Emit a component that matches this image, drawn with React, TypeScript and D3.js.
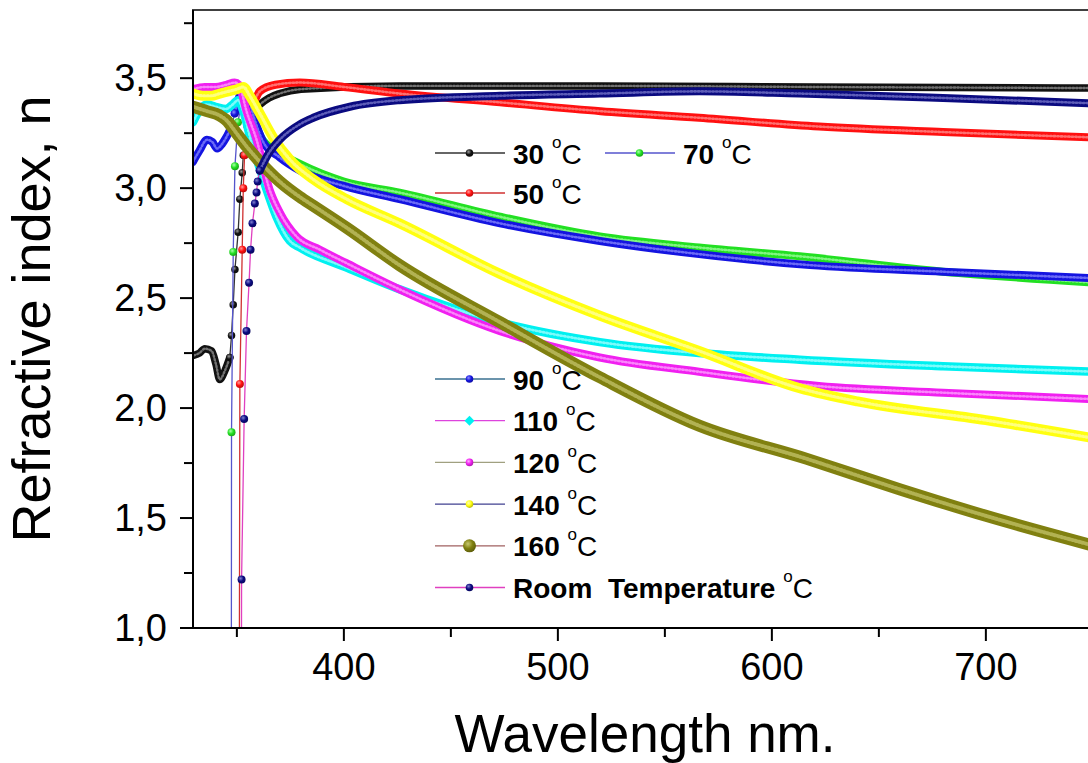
import React from 'react';
import * as d3 from 'd3';

type Pt = [number, number];

// ---- data: [wavelength nm, refractive index n] ----
const s30: Pt[] = [[330,2.24],[332.5,2.25],[335,2.27],[338.2,2.26],[340.2,2.20],[342,2.13],[344.4,2.17],[346.7,2.23],[347.5,2.33],[348.3,2.47],[349.1,2.63],[350.6,2.80],[351.4,2.95],[352.5,3.07],[353,3.15],[355,3.28],[357.5,3.35],[360.7,3.38],[365,3.41],[370,3.43],[380,3.45],[426,3.465],[520,3.465],[620,3.46],[752,3.455]];
const s50: Pt[] = [[351.1,0.5],[351.4,2.11],[352.5,2.72],[353.0,3.0],[353.6,3.15],[355,3.28],[357,3.36],[360.7,3.44],[368,3.47],[379.4,3.48],[400,3.46],[426,3.43],[473,3.39],[520,3.35],[566,3.32],[622,3.28],[680,3.255],[752,3.23]];
const s70: Pt[] = [[347.4,0.5],[347.5,1.89],[348.3,2.71],[349.1,3.10],[350.5,3.30],[352,3.38],[355,3.36],[362,3.22],[370,3.16],[379.4,3.11],[400,3.03],[426,2.98],[473,2.87],[519.6,2.78],[566,2.73],[613,2.69],[680,2.62],[752,2.57]];
const s90: Pt[] = [[329.5,3.12],[332.5,3.17],[336,3.22],[338.5,3.21],[340.8,3.18],[343,3.20],[345,3.23],[347.5,3.28],[349,3.34],[350.6,3.40],[353,3.45],[354.5,3.44],[358,3.32],[362.3,3.21],[370,3.14],[379.4,3.08],[400,3.01],[426,2.95],[473,2.84],[519.6,2.76],[566,2.70],[617.8,2.65],[680,2.62],[752,2.59]];
const s110: Pt[] = [[329.5,3.30],[333,3.36],[336,3.38],[340,3.37],[345,3.36],[348,3.38],[350.5,3.40],[353,3.35],[357,3.20],[361,3.08],[364,2.99],[368.5,2.87],[374.8,2.76],[379.4,2.73],[401,2.64],[426,2.54],[473,2.39],[519.6,2.30],[566,2.25],[613,2.22],[680,2.19],[752,2.165]];
const s120: Pt[] = [[329.5,3.45],[335,3.46],[340,3.46],[345,3.47],[349,3.48],[351,3.47],[354.5,3.35],[359.2,3.22],[365.4,2.99],[370,2.89],[377.9,2.78],[388.8,2.72],[401,2.66],[426,2.54],[473,2.35],[519.6,2.23],[566,2.165],[622,2.10],[680,2.07],[752,2.04]];
const s140: Pt[] = [[329.5,3.43],[334,3.42],[338,3.42],[342,3.43],[346,3.44],[350,3.45],[353,3.46],[356,3.42],[360.7,3.34],[367,3.23],[374.8,3.13],[385.7,3.04],[401.3,2.95],[426,2.84],[473,2.61],[519.6,2.42],[566,2.26],[613,2.09],[640,2.03],[700,1.945],[752,1.86]];
const s160: Pt[] = [[329.5,3.37],[336,3.35],[342,3.33],[345,3.31],[349.8,3.25],[354.5,3.19],[360.7,3.12],[370,3.03],[379.4,2.96],[385.7,2.92],[401.3,2.82],[426,2.65],[473,2.39],[519.6,2.14],[566,1.92],[616,1.77],[660,1.63],[700,1.51],[752,1.37]];
const sRoom: Pt[] = [[352.1,0.5],[352.2,1.22],[353.4,1.95],[354.5,2.35],[355.7,2.57],[356.4,2.72],[357.3,2.84],[358.4,2.93],[359.2,2.98],[359.7,3.03],[360.7,3.08],[365,3.16],[370,3.22],[379.4,3.29],[385.7,3.32],[402.8,3.37],[426,3.40],[473,3.42],[519.6,3.43],[566,3.44],[613,3.43],[680,3.41],[752,3.385]];

const xMajor = [400, 500, 600, 700];
const xMinor = [350, 450, 550, 650, 750];
const yMajor = [1.0, 1.5, 2.0, 2.5, 3.0, 3.5];
const yMinor = [1.25, 1.75, 2.25, 2.75, 3.25, 3.75];

const labels = ['30', '50', '70', '90', '110', '120', '140', '160', 'Room\u00a0\u00a0Temperature'];

type Meta = { label: string; data: Pt[]; color: string; hi: string; line: string; size: number; diamond?: boolean };
const series: Meta[] = [
  { label: labels[0], data: s30, color: '#111111', hi: '#9a9a9a', line: '#333333', size: 7.5 },
  { label: labels[1], data: s50, color: '#ff1010', hi: '#ff9a9a', line: '#d03030', size: 8 },
  { label: labels[2], data: s70, color: '#22e022', hi: '#aaffaa', line: '#5555cc', size: 8 },
  { label: labels[3], data: s90, color: '#1414e0', hi: '#9090ff', line: '#3a7090', size: 8 },
  { label: labels[4], data: s110, color: '#00f0f0', hi: '#b0ffff', line: '#dd44dd', size: 8.5, diamond: true },
  { label: labels[5], data: s120, color: '#f020f0', hi: '#ffb0ff', line: '#a0a080', size: 8 },
  { label: labels[6], data: s140, color: '#ffff10', hi: '#ffffb0', line: '#404090', size: 10 },
  { label: labels[7], data: s160, color: '#808010', hi: '#c8c870', line: '#a06060', size: 12 },
  { label: labels[8], data: sRoom, color: '#0a0a80', hi: '#8080d0', line: '#e040c0', size: 8 },
];

const FONT = "'Liberation Sans', Arial, Helvetica, sans-serif";
const W = 1088, H = 763;
const PX = 2.14;
const x = d3.scaleLinear().domain([329.5, 752]).range([193, 193 + 422.5 * PX]);
const y = d3.scaleLinear().domain([1.0, 3.81]).range([628, 10]);

const fmt = (v: number) => d3.format('.1f')(v).replace('.', ',');

function SeriesMarks({ s, i }: { s: Meta; i: number }) {
  const pts: [number, number][] = s.data.map(([w, n]) => [x(w), y(n)]);
  const steep = pts.slice(0, -1).map((p, k) => Math.abs(pts[k + 1][1] - p[1]) > 4 * Math.abs(pts[k + 1][0] - p[0]));
  const runs: [number, number][][] = [];
  let cur: [number, number][] = [pts[0]];
  for (let k = 0; k < steep.length; k++) {
    if (!steep[k]) cur.push(pts[k + 1]);
    else { if (cur.length > 1) runs.push(cur); cur = [pts[k + 1]]; }
  }
  if (cur.length > 1) runs.push(cur);
  const markers = pts.filter((_, k) => (k > 0 && steep[k - 1]) || (k < steep.length && steep[k]));
  const thin = d3.line()(pts) || '';
  const thick = d3.line().curve(d3.curveMonotoneX);
  return (
    <g>
      <path d={thin} fill="none" stroke={s.line} strokeWidth={1.3} />
      {runs.map((r, k) => (
        <g key={k}>
          <path d={thick(r) || ''} fill="none" stroke={s.color} strokeWidth={s.size} strokeLinecap="round" strokeLinejoin="round" />
          <path d={thick(r) || ''} fill="none" stroke={s.hi} strokeWidth={s.size * 0.32} strokeDasharray="1.3 2.3" strokeOpacity={0.7} strokeLinecap="round" />
        </g>
      ))}
      {markers.map((p, k) => (
        <circle key={k} cx={p[0]} cy={p[1]} r={s.size / 2} fill={`url(#g${i})`} />
      ))}
    </g>
  );
}

function LegendEntry({ s, i, lx, ly }: { s: Meta; i: number; lx: number; ly: number }) {
  const mx = lx + 34.5;
  const r = i === 7 ? 6.5 : 3.8;
  return (
    <g>
      <line x1={lx} x2={lx + 70} y1={ly} y2={ly} stroke={s.line} strokeWidth={1.3} />
      {s.diamond ? (
        <rect x={mx - 3.5} y={ly - 3.5} width={7} height={7} fill={s.color} transform={`rotate(45 ${mx} ${ly})`} />
      ) : (
        <circle cx={mx} cy={ly} r={r} fill={`url(#g${i})`} />
      )}
      <text x={lx + 78} y={ly + 10.5} fontFamily={FONT} fontSize={28} fill="#000">
        <tspan fontWeight="bold">{s.label}</tspan>
        <tspan> </tspan>
        <tspan fontSize={17} dy={-16}>o</tspan>
        <tspan dy={16}>C</tspan>
      </text>
    </g>
  );
}

export default function App() {
  const legendTop = [{ i: 0, lx: 435, ly: 153 }, { i: 2, lx: 605, ly: 153 }, { i: 1, lx: 435, ly: 193 }];
  const legendBottom = [3, 4, 5, 6, 7, 8].map((i, k) => ({ i, lx: 435, ly: 379 + k * 41.7 }));
  return (
    <div style={{ position: 'absolute', left: 0, top: 0 }}>
      <svg width={W} height={H} style={{ display: 'block', background: '#fff' }}>
        <defs>
          <clipPath id="plot">
            <rect x={193} y={10} width={W - 193} height={618} />
          </clipPath>
          {series.map((s, i) => (
            <radialGradient key={i} id={`g${i}`} cx="38%" cy="35%" r="65%">
              <stop offset="0%" stopColor={s.hi} />
              <stop offset="55%" stopColor={s.color} />
              <stop offset="100%" stopColor={d3.color(s.color)!.darker(0.8).toString()} />
            </radialGradient>
          ))}
        </defs>
        <g clipPath="url(#plot)">
          {series.map((s, i) => <SeriesMarks key={i} s={s} i={i} />)}
        </g>
        {/* frame */}
        <line x1={193} x2={193} y1={10} y2={629} stroke="#000" strokeWidth={2} />
        <line x1={192} x2={W} y1={628} y2={628} stroke="#000" strokeWidth={2} />
        <line x1={192} x2={W} y1={10} y2={10} stroke="#000" strokeWidth={1.5} />
        {/* y ticks */}
        {yMajor.map(v => (
          <g key={v}>
            <line x1={180} x2={193} y1={y(v)} y2={y(v)} stroke="#000" strokeWidth={2} />
            <text x={167} y={y(v) + 13} textAnchor="end" fontFamily={FONT} fontSize={38}>{fmt(v)}</text>
          </g>
        ))}
        {yMinor.map(v => <line key={v} x1={184} x2={193} y1={y(v)} y2={y(v)} stroke="#000" strokeWidth={2} />)}
        {/* x ticks */}
        {xMajor.map(v => (
          <g key={v}>
            <line x1={x(v)} x2={x(v)} y1={628} y2={641} stroke="#000" strokeWidth={2} />
            <text x={x(v)} y={680} textAnchor="middle" fontFamily={FONT} fontSize={38}>{v}</text>
          </g>
        ))}
        {xMinor.map(v => <line key={v} x1={x(v)} x2={x(v)} y1={628} y2={637} stroke="#000" strokeWidth={2} />)}
        {/* titles */}
        <text x={645} y={752} textAnchor="middle" fontFamily={FONT} fontSize={53}>Wavelength nm.</text>
        <text transform="translate(50,319) rotate(-90)" textAnchor="middle" fontFamily={FONT} fontSize={54}>Refractive index, n</text>
        {/* legend */}
        {legendTop.map(e => <LegendEntry key={e.i} s={series[e.i]} i={e.i} lx={e.lx} ly={e.ly} />)}
        {legendBottom.map(e => <LegendEntry key={e.i} s={series[e.i]} i={e.i} lx={e.lx} ly={e.ly} />)}
      </svg>
    </div>
  );
}
